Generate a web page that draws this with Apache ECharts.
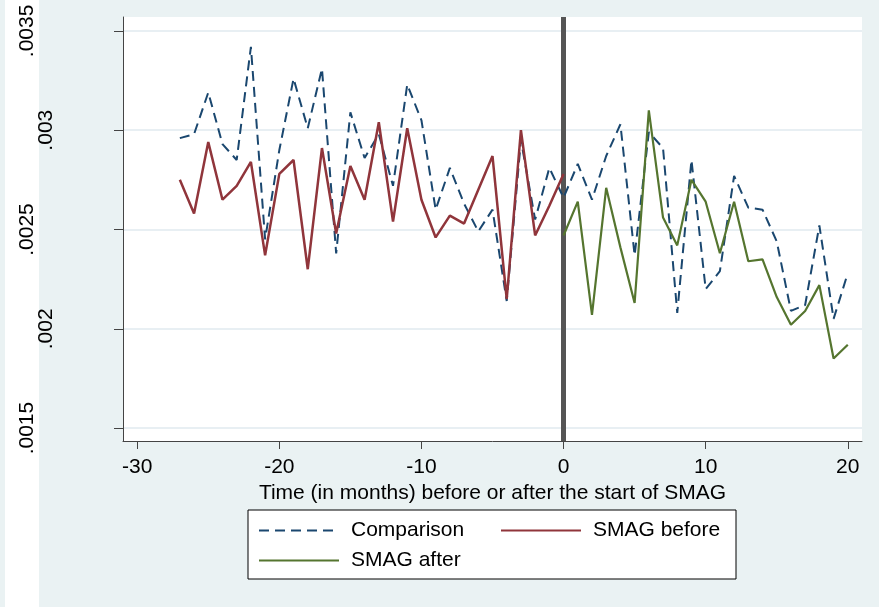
<!DOCTYPE html>
<html>
<head>
<meta charset="utf-8">
<script src="https://cdn.jsdelivr.net/npm/echarts@6/dist/echarts.min.js"></script>
<style>
html,body{margin:0;padding:0;background:#eaf2f3;}
#chart{width:879px;height:607px;}
</style>
</head>
<body>
<div id="chart"></div>
<script>
// ---- data ----
var compMonths = [-27,-26,-25,-24,-23,-22,-21,-20,-19,-18,-17,-16,-15,-14,-13,-12,-11,-10,-9,-8,-7,-6,-5,-4,-3,-2,-1,0,1,2,3,4,5,6,7,8,9,10,11,12,13,14,15,16,17,18,19,20];
var compValues = [0.00296,0.00298,0.00319,0.00293,0.00285,0.00342,0.00245,0.00290,0.00326,0.00301,0.00331,0.00238,0.00309,0.00286,0.00298,0.00272,0.00323,0.00305,0.00260,0.00281,0.00263,0.00249,0.00260,0.00214,0.00295,0.00255,0.00281,0.00266,0.00283,0.00265,0.00287,0.00303,0.00237,0.00299,0.00291,0.00208,0.00285,0.00220,0.00229,0.00277,0.00261,0.00260,0.00244,0.00209,0.00212,0.00252,0.00205,0.00228];
var beforeMonths = [-27,-26,-25,-24,-23,-22,-21,-20,-19,-18,-17,-16,-15,-14,-13,-12,-11,-10,-9,-8,-7,-6,-5,-4,-3,-2,-1,0];
var beforeValues = [0.00275,0.00258,0.00294,0.00265,0.00272,0.00284,0.00237,0.00278,0.00285,0.00230,0.00291,0.00248,0.00282,0.00265,0.00304,0.00254,0.00301,0.00265,0.00246,0.00257,0.00253,0.00270,0.00287,0.00215,0.00300,0.00247,0.00262,0.00278];
var afterMonths = [0,1,2,3,4,5,6,7,8,9,10,11,12,13,14,15,16,17,18,19,20];
var afterValues = [0.00247,0.00264,0.00207,0.00271,0.00241,0.00213,0.00310,0.00256,0.00242,0.00275,0.00264,0.00238,0.00264,0.00234,0.00235,0.00216,0.00202,0.00209,0.00222,0.00185,0.00192];
var seriesNames = ['Comparison','SMAG before','SMAG after'];
var xTickValues = [-30,-20,-10,0,10,20];
var xTickLabels = ['-30','-20','-10','0','10','20'];
var yTickValues = [0.0015,0.002,0.0025,0.003,0.0035];
var yTickLabels = ['.0015','.002','.0025','.003','.0035'];
var eventMonth = [0];

function zip(xs, ys){ var o=[]; for(var i=0;i<xs.length;i++){o.push([xs[i],ys[i]]);} return o; }

var FONT = '"Liberation Sans", Arial, Helvetica, sans-serif';
var chart = echarts.init(document.getElementById('chart'), null, {renderer:'canvas'});

function legendFor(name, left, top){
  return {
    data:[name], left:left, top:top, orient:'horizontal',
    itemWidth:80, itemHeight:14, padding:0, itemGap:0,
    itemStyle:{opacity:0, borderWidth:0},
    textStyle:{fontFamily:FONT, fontSize:21, color:'#000', padding:[0,0,0,7]},
    selectedMode:false
  };
}

var option = {
  animation:false,
  backgroundColor:'#eaf2f3',
  graphic:[
    {type:'rect', shape:{x:5,y:0,width:34,height:607}, style:{fill:'#ffffff'}, z:-10, silent:true},
    {type:'rect', shape:{x:248,y:510,width:488,height:69}, style:{fill:'#ffffff', stroke:'#000', lineWidth:1}, z:-5, silent:true}
  ],
  grid:{left:123, right:17, top:17, bottom:166, show:true, backgroundColor:'#ffffff', borderWidth:0, containLabel:false},
  legend:[
    legendFor(seriesNames[0], 258, 520),
    legendFor(seriesNames[1], 500, 520),
    legendFor(seriesNames[2], 258, 550)
  ],
  xAxis:{
    type:'value', min:-31, max:21,
    name:'Time (in months) before or after the start of SMAG',
    nameLocation:'middle', nameGap:36,
    nameTextStyle:{fontFamily:FONT, fontSize:21, color:'#000'},
    axisLine:{show:true, onZero:false, lineStyle:{color:'#444', width:1}},
    axisTick:{show:true, length:8, customValues:xTickValues, lineStyle:{color:'#444'}},
    axisLabel:{customValues:xTickValues, margin:16, fontFamily:FONT, fontSize:21, color:'#000',
      formatter:function(v){ var i=xTickValues.indexOf(v); return i>=0?xTickLabels[i]:''; }},
    splitLine:{show:false}
  },
  yAxis:{
    type:'value', min:0.001435, max:0.00357,
    axisLine:{show:true, onZero:false, lineStyle:{color:'#444', width:1}},
    axisTick:{show:true, length:9, customValues:yTickValues, lineStyle:{color:'#444'}},
    axisLabel:{customValues:yTickValues, rotate:90, margin:66, fontFamily:FONT, fontSize:21, color:'#000',
      formatter:function(v){
        var i=-1; for(var k=0;k<yTickValues.length;k++){ if(Math.abs(yTickValues[k]-v)<1e-9) i=k; }
        if(i<0) return '';
        var s=yTickLabels[i];
        return s.length>4 ? '{l|'+s+'}' : '{s|'+s+'}';
      },
      rich:{
        l:{fontFamily:FONT, fontSize:21, color:'#000', padding:[0,0,19,0]},
        s:{fontFamily:FONT, fontSize:21, color:'#000'}
      }
    },
    splitLine:{show:true, lineStyle:{color:'#e8eff3', width:2}}
  },
  series:[
    {name:seriesNames[0], type:'line', data:zip(compMonths, compValues), symbol:'none', z:3,
      lineStyle:{color:'#1a476f', width:2, type:[10,6]}, itemStyle:{color:'#1a476f'}},
    {name:seriesNames[1], type:'line', data:zip(beforeMonths, beforeValues), symbol:'none', z:4,
      lineStyle:{color:'#90353b', width:2.5}, itemStyle:{color:'#90353b'},
      markLine:{silent:true, symbol:['none','none'], label:{show:false}, z:2,
        lineStyle:{color:'#555555', width:5, type:'solid'},
        data:eventMonth.map(function(m){return {xAxis:m};})}},
    {name:seriesNames[2], type:'line', data:zip(afterMonths, afterValues), symbol:'none', z:4,
      lineStyle:{color:'#55752f', width:2.2}, itemStyle:{color:'#55752f'}}
  ]
};
chart.setOption(option);
</script>
</body>
</html>
